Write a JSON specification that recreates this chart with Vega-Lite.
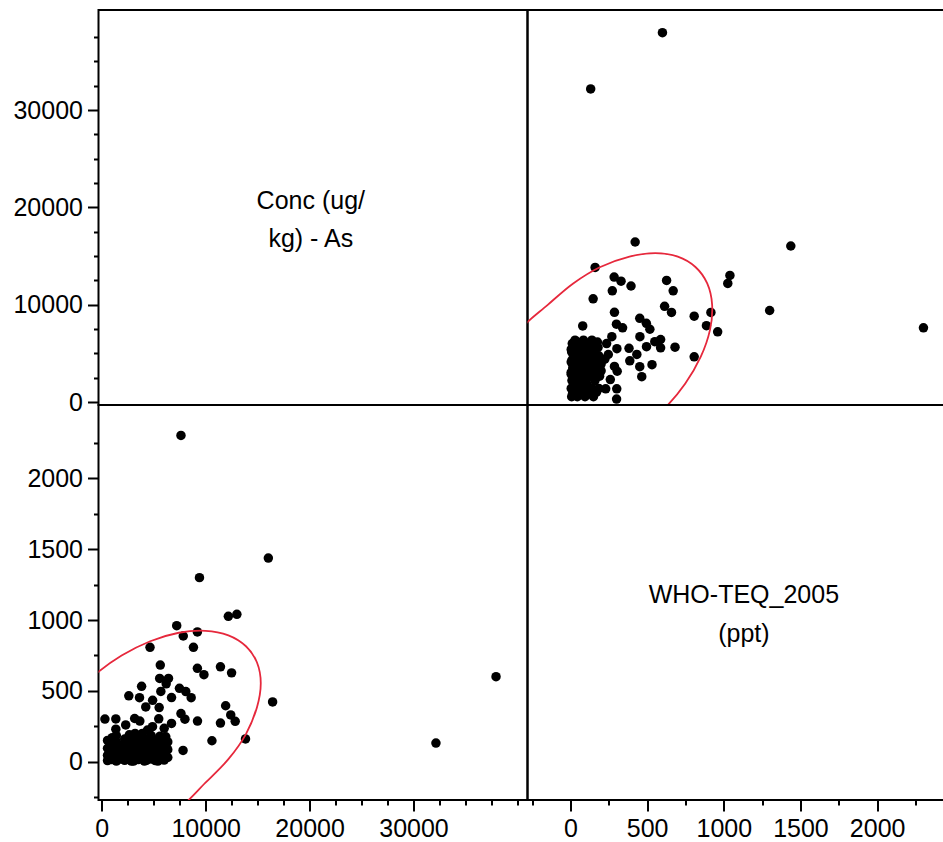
{
  "$schema": "https://vega.github.io/schema/vega-lite/v6.json",
  "padding": {"left": 11.5, "top": 9, "right": -14, "bottom": 0},
  "background": "white",
  "config": {
    "view": {"stroke": "black", "strokeWidth": 2},
    "axis": {"grid": false, "domain": false, "labelFont": "Liberation Sans", "labelFontSize": 25, "labelColor": "black", "tickColor": "black", "tickWidth": 2, "labelPadding": 5, "labelFlush": false, "labelOverlap": false, "format": "d"},
    "text": {"font": "Liberation Sans"}
  },
  "datasets": {
    "pts": [
      {"c":37943,"t":600},{"c":32160,"t":132},{"c":16439,"t":422},{"c":16028,"t":1437},{"c":7620,"t":2302},
      {"c":9400,"t":1299},{"c":13000,"t":1040},{"c":12180,"t":1026},{"c":7210,"t":960},{"c":9200,"t":916},
      {"c":7840,"t":887},{"c":8820,"t":807},{"c":4640,"t":807},{"c":5630,"t":682},{"c":12490,"t":627},
      {"c":11420,"t":670},{"c":9830,"t":614},{"c":9200,"t":659},{"c":13830,"t":161},{"c":12840,"t":285},
      {"c":12410,"t":330},{"c":11920,"t":395},{"c":11420,"t":273},{"c":10600,"t":148},{"c":7820,"t":80},
      {"c":9210,"t":287},{"c":8000,"t":300},{"c":7620,"t":340},{"c":8600,"t":452},{"c":8085,"t":495},
      {"c":7475,"t":518},{"c":6710,"t":453},{"c":6420,"t":588},{"c":6195,"t":550},{"c":5570,"t":588},
      {"c":5682,"t":496},{"c":5520,"t":382},{"c":4890,"t":433},{"c":4230,"t":387},{"c":3630,"t":452},
      {"c":3830,"t":532},{"c":2600,"t":465},{"c":6709,"t":270},{"c":5480,"t":303},{"c":3660,"t":287},
      {"c":3160,"t":305},{"c":2300,"t":260},{"c":1350,"t":230},{"c":1350,"t":302},{"c":300,"t":301},
      {"c":4399,"t":224},{"c":4880,"t":247},{"c":6006,"t":236},{"c":6160,"t":176},
      {"c":550,"t":8},{"c":550,"t":45},{"c":550,"t":95},{"c":550,"t":150},
      {"c":950,"t":15},{"c":950,"t":70},{"c":950,"t":120},
      {"c":1400,"t":5},{"c":1400,"t":40},{"c":1400,"t":85},{"c":1400,"t":140},{"c":1400,"t":185},
      {"c":1800,"t":20},{"c":1800,"t":60},{"c":1800,"t":110},
      {"c":2200,"t":10},{"c":2200,"t":50},{"c":2200,"t":100},{"c":2200,"t":160},
      {"c":2650,"t":25},{"c":2650,"t":75},{"c":2650,"t":130},{"c":2650,"t":190},
      {"c":3050,"t":5},{"c":3050,"t":45},{"c":3050,"t":95},{"c":3050,"t":150},
      {"c":3500,"t":15},{"c":3500,"t":65},{"c":3500,"t":115},{"c":3500,"t":170},
      {"c":3900,"t":30},{"c":3900,"t":80},{"c":3900,"t":135},{"c":3900,"t":200},
      {"c":4300,"t":10},{"c":4300,"t":55},{"c":4300,"t":105},{"c":4300,"t":160},
      {"c":4750,"t":20},{"c":4750,"t":70},{"c":4750,"t":125},{"c":4750,"t":185},
      {"c":5150,"t":8},{"c":5150,"t":50},{"c":5150,"t":100},{"c":5150,"t":150},
      {"c":5600,"t":25},{"c":5600,"t":75},{"c":5600,"t":130},{"c":5600,"t":180},
      {"c":6000,"t":12},{"c":6000,"t":60},{"c":6000,"t":110},{"c":6000,"t":165},
      {"c":6350,"t":30},{"c":6350,"t":85},{"c":6350,"t":140},
      {"c":750,"t":30},{"c":1150,"t":25},{"c":1600,"t":100},{"c":2000,"t":35},{"c":2400,"t":80},
      {"c":2850,"t":5},{"c":3300,"t":100},{"c":3700,"t":40},{"c":4100,"t":5},{"c":4500,"t":90},
      {"c":4950,"t":40},{"c":5400,"t":5},{"c":5800,"t":100},{"c":6200,"t":40},{"c":1000,"t":170},{"c":3200,"t":200}
    ],
    "ell": [
      {"i":0,"c":15300,"t":553},{"i":1,"c":14937,"t":700},{"i":2,"c":13874,"t":815},{"i":3,"c":12183,"t":892},
      {"i":4,"c":9979,"t":924},{"i":5,"c":7412,"t":910},{"i":6,"c":4658,"t":850},{"i":7,"c":1904,"t":749},
      {"i":8,"c":-663,"t":614},{"i":9,"c":-2867,"t":453},{"i":10,"c":-4558,"t":277},{"i":11,"c":-5621,"t":100},
      {"i":12,"c":-5984,"t":-68},{"i":13,"c":-5621,"t":-215},{"i":14,"c":-4558,"t":-335},{"i":15,"c":-2867,"t":-420},
      {"i":16,"c":-663,"t":-460},{"i":17,"c":1904,"t":-465},{"i":18,"c":4658,"t":-420},{"i":19,"c":7412,"t":-330},
      {"i":20,"c":9979,"t":-148},{"i":21,"c":12183,"t":18},{"i":22,"c":13874,"t":195},{"i":23,"c":14937,"t":385}
    ]
  },
  "columns": 2,
  "spacing": 0,
  "bounds": "flush",
  "concat": [
    {
      "width": 429, "height": 395,
      "data": {"values": [{}]},
      "mark": {"type": "text", "text": ["Conc (ug/", "kg) - As"], "fontSize": 25, "lineHeight": 38.5, "align": "center", "baseline": "alphabetic", "color": "black"},
      "encoding": {
        "x": {"datum": 20115, "type": "quantitative", "scale": {"domain": [-318, 40972], "nice": false, "zero": false}, "axis": null},
        "y": {"datum": 19850, "type": "quantitative", "scale": {"domain": [-308, 40274], "nice": false, "zero": false},
          "axis": {"title": null, "values": [0,2500,5000,7500,10000,12500,15000,17500,20000,22500,25000,27500,30000,32500,35000,37500],
            "labelExpr": "datum.value % 10000 === 0 ? datum.label : ''",
            "tickSize": {"condition": {"test": "datum.value % 10000 === 0", "value": 11}, "value": 5}}}
      }
    },
    {
      "width": 430, "height": 395,
      "encoding": {
        "x": {"field": "t", "type": "quantitative", "scale": {"domain": [-280, 2524], "nice": false, "zero": false}, "axis": null},
        "y": {"field": "c", "type": "quantitative", "scale": {"domain": [-308, 40274], "nice": false, "zero": false}, "axis": null}
      },
      "layer": [
        {"data": {"name": "pts"}, "mark": {"type": "circle", "size": 90, "opacity": 1, "color": "black", "clip": true}},
        {"data": {"name": "ell"}, "mark": {"type": "line", "interpolate": "cardinal-closed", "clip": true, "color": "#e6283c", "strokeWidth": 1.8},
          "encoding": {"order": {"field": "i", "type": "quantitative"}}}
      ]
    },
    {
      "width": 429, "height": 395,
      "encoding": {
        "x": {"field": "c", "type": "quantitative", "scale": {"domain": [-318, 40972], "nice": false, "zero": false},
          "axis": {"title": null, "values": [0,2500,5000,7500,10000,12500,15000,17500,20000,22500,25000,27500,30000,32500,35000,37500,40000],
            "labelExpr": "datum.value % 10000 === 0 && datum.value < 40000 ? datum.label : ''",
            "tickSize": {"condition": {"test": "datum.value % 10000 === 0 && datum.value < 40000", "value": 11}, "value": 5}}},
        "y": {"field": "t", "type": "quantitative", "scale": {"domain": [-270, 2517], "nice": false, "zero": false},
          "axis": {"title": null, "values": [-250,0,250,500,750,1000,1250,1500,1750,2000,2250],
            "labelExpr": "datum.value % 500 === 0 ? datum.label : ''",
            "tickSize": {"condition": {"test": "datum.value % 500 === 0", "value": 11}, "value": 5}}}
      },
      "layer": [
        {"data": {"name": "pts"}, "mark": {"type": "circle", "size": 90, "opacity": 1, "color": "black", "clip": true}},
        {"data": {"name": "ell"}, "mark": {"type": "line", "interpolate": "cardinal-closed", "clip": true, "color": "#e6283c", "strokeWidth": 1.8},
          "encoding": {"order": {"field": "i", "type": "quantitative"}}}
      ]
    },
    {
      "width": 430, "height": 395,
      "data": {"values": [{}]},
      "mark": {"type": "text", "text": ["WHO-TEQ_2005", "(ppt)"], "fontSize": 25, "lineHeight": 38.5, "align": "center", "baseline": "alphabetic", "color": "black"},
      "encoding": {
        "x": {"datum": 1131, "type": "quantitative", "scale": {"domain": [-280, 2524], "nice": false, "zero": false},
          "axis": {"title": null, "values": [-250,0,250,500,750,1000,1250,1500,1750,2000,2250],
            "labelExpr": "datum.value % 500 === 0 ? datum.label : ''",
            "tickSize": {"condition": {"test": "datum.value % 500 === 0", "value": 11}, "value": 5}}},
        "y": {"datum": 1118, "type": "quantitative", "scale": {"domain": [-270, 2517], "nice": false, "zero": false}, "axis": null}
      }
    }
  ]
}
